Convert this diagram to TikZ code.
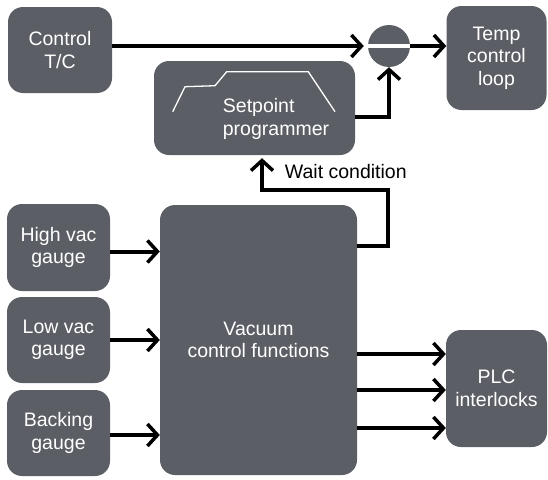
\documentclass[tikz,border=0pt]{standalone}
\usepackage{fontspec}
\setmainfont{Liberation Sans}
\usetikzlibrary{arrows.meta}
\definecolor{boxgray}{RGB}{91,95,101}
\begin{document}
\begin{tikzpicture}[x=1pt,y=-1pt,
  box/.style={fill=boxgray,rounded corners=15pt,text=white,align=center,
    inner sep=0pt,font=\fontsize{19.5}{22.5}\selectfont},
  txt/.style={inner sep=0pt,font=\fontsize{19.5}{22.5}\selectfont},
  flow/.style={line width=4pt,-{Straight Barb[length=10pt,width=22pt,line width=3.5pt]}}]
  \useasboundingbox (0,0) rectangle (548,479);
  \node[box,minimum width=104pt,minimum height=86pt] (tc) at (60,50) {Control\\T/C};
  \node[box,minimum width=201pt,minimum height=94pt] (sp) at (254.5,108) {};
  \node[txt,text=white,align=left] (sptxt) at (276,119) {Setpoint\\programmer};
  \node[circle,fill=boxgray,minimum size=42pt,inner sep=0pt] (sum) at (389,46) {};
  \node[box,minimum width=100pt,minimum height=104pt] (loop) at (496.5,58) {Temp\\control\\loop};
  \node[box,minimum width=103pt,minimum height=87pt] (hv) at (58.5,247.5) {High vac\\gauge};
  \node[box,minimum width=103pt,minimum height=86pt] (lv) at (58.5,340) {Low vac\\gauge};
  \node[box,minimum width=103pt,minimum height=86pt] (bk) at (58.5,433) {Backing\\gauge};
  \node[box,minimum width=197pt,minimum height=270pt] (vac) at (258.5,340) {Vacuum\\control functions};
  \node[box,minimum width=101pt,minimum height=117pt] (plc) at (496.5,388.5) {PLC\\interlocks};
  \node[txt] (wait) at (345.8,171.7) {Wait condition};

  \draw[white,line width=1.3pt] (172.7,111.7) -- (185,86.7) -- (215,85.7)
    -- (226.7,71.7) -- (308.3,71.7) -- (335,111.7);
  \draw[white,line width=3.5pt] (sum.west) -- (sum.east);

  \draw[flow,shorten >=4pt] (tc.east |- sum.west) -- (sum.west);
  \draw[flow] (sum.east) -- (sum.east -| loop.west);
  \draw[flow] ([yshift=-9pt]sp.east) -| (sum.south);
  \coordinate (bend) at (388,190);
  \draw[flow,shorten >=3pt] ([yshift=94pt]vac.east) -| (bend) -| ([xshift=7.5pt]sp.south);

  \draw[flow] ([yshift=-4pt]hv.east) -- ([yshift=-4pt]hv.east -| vac.west);
  \draw[flow] (lv.east) -- (lv.east -| vac.west);
  \draw[flow] ([yshift=-2pt]bk.east) -- ([yshift=-2pt]bk.east -| vac.west);

  \coordinate (p1) at ([yshift=34.5pt]plc.west);
  \coordinate (p2) at ([yshift=-1.5pt]plc.west);
  \coordinate (p3) at ([yshift=-39.5pt]plc.west);
  \draw[flow] (vac.east |- p1) -- (p1);
  \draw[flow] (vac.east |- p2) -- (p2);
  \draw[flow] (vac.east |- p3) -- (p3);
\end{tikzpicture}
\end{document}
